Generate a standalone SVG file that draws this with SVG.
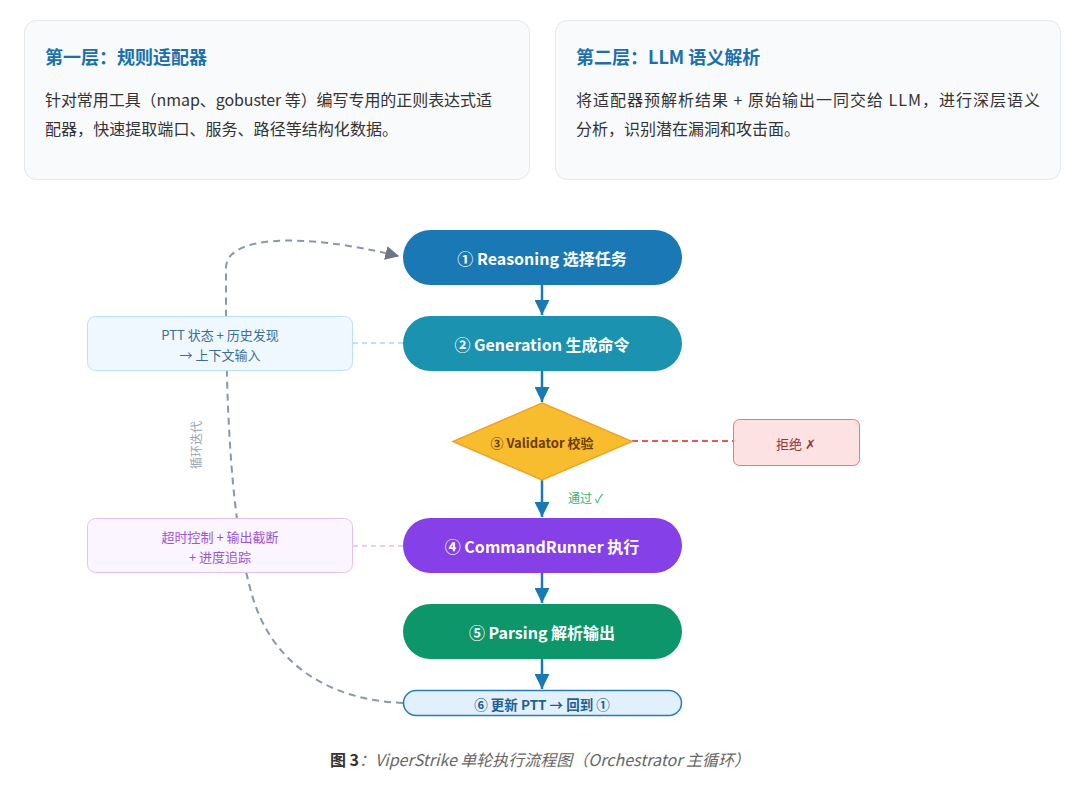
<svg xmlns="http://www.w3.org/2000/svg" width="1080" height="789" viewBox="0 0 1080 789">
<style>
text{font-family:"Noto Sans CJK SC","Liberation Sans",sans-serif;}
.card{fill:#f8fafc;stroke:#e2e8f0;stroke-width:1;}
.ctitle{font-size:18px;font-weight:bold;fill:#1a6fad;}
.cbody{font-size:16px;fill:#333;}
.ntext{font-size:16px;font-weight:bold;fill:#fff;text-anchor:middle;dominant-baseline:central;}
.flow{stroke:#1a78b4;stroke-width:2.5;fill:none;}
.note{font-size:13px;text-anchor:middle;dominant-baseline:central;}
</style>
<defs>
<marker id="ab" viewBox="0 0 10 10" refX="10" refY="5" markerWidth="6" markerHeight="6" orient="auto" markerUnits="strokeWidth"><path d="M0,0 L10,5 L0,10 z" fill="#1a78b4"/></marker>
<marker id="ag" viewBox="0 0 10 10" refX="9" refY="5" markerWidth="7" markerHeight="7" orient="auto" markerUnits="strokeWidth"><path d="M0,0 L10,5 L0,10 z" fill="#6b7689"/></marker>
</defs>
<rect width="1080" height="789" fill="#fff"/>
<g id="card1">
<rect class="card" x="24.5" y="20.5" width="505" height="159" rx="12"/>
<text class="ctitle" x="45" y="64">第一层：规则适配器</text>
<text class="cbody" x="45" y="106" textLength="447" lengthAdjust="spacing">针对常用工具（nmap、gobuster 等）编写专用的正则表达式适</text>
<text class="cbody" x="45" y="135" textLength="353" lengthAdjust="spacing">配器，快速提取端口、服务、路径等结构化数据。</text>
</g>
<g id="card2">
<rect class="card" x="555.5" y="20.5" width="505" height="159" rx="12"/>
<text class="ctitle" x="576" y="64">第二层：LLM 语义解析</text>
<text class="cbody" x="576" y="106" textLength="464" lengthAdjust="spacing">将适配器预解析结果 + 原始输出一同交给 LLM，进行深层语义</text>
<text class="cbody" x="576" y="135" textLength="224" lengthAdjust="spacing">分析，识别潜在漏洞和攻击面。</text>
</g>
<g id="connectors">
<line class="flow" x1="542" y1="285" x2="542" y2="315" marker-end="url(#ab)"/>
<line class="flow" x1="542" y1="371" x2="542" y2="402" marker-end="url(#ab)"/>
<line class="flow" x1="542" y1="480" x2="542" y2="517" marker-end="url(#ab)"/>
<line class="flow" x1="542" y1="573" x2="542" y2="603" marker-end="url(#ab)"/>
<line class="flow" x1="542" y1="659" x2="542" y2="689" marker-end="url(#ab)"/>
<line x1="353" y1="343" x2="403" y2="343" stroke="#a9d8f0" stroke-width="1.5" stroke-dasharray="5 4"/>
<line x1="353" y1="546" x2="403" y2="546" stroke="#dcc0fb" stroke-width="1.5" stroke-dasharray="5 4"/>
<line x1="632" y1="441" x2="733" y2="441" stroke="#ef5555" stroke-width="2" stroke-dasharray="6 4"/>
<path d="M403,703 C330,700 272,665 252,595 C236,540 226,450 226,300 L226,268 C226,236 300,232 398,256" fill="none" stroke="#8a96aa" stroke-width="2" stroke-dasharray="7 5" marker-end="url(#ag)"/>
<text x="568" y="503" font-size="12" fill="#2bb673">通过 ✓</text>
<text x="0" y="0" font-size="12" fill="#9aa6b8" transform="translate(201,445) rotate(-90)" text-anchor="middle">循环迭代</text>
</g>
<g id="n1">
<rect x="403" y="230" width="279" height="55" rx="27.5" fill="#1a78b4"/>
<text class="ntext" x="542" y="258">① Reasoning 选择任务</text>
</g>
<g id="n2">
<rect x="403" y="316" width="279" height="55" rx="27.5" fill="#1b92b0"/>
<text class="ntext" x="542" y="344">② Generation 生成命令</text>
</g>
<g id="ptt">
<rect x="87.5" y="316.5" width="265" height="54" rx="8" fill="#f0f8ff" stroke="#bce0f8"/>
<text class="note" x="220" y="334" fill="#3b6e96">PTT 状态 + 历史发现</text>
<text class="note" x="220" y="354" fill="#3b6e96">→ 上下文输入</text>
</g>
<g id="n3">
<polygon points="542,403 632,441.5 542,480 453,441.5" fill="#f8bd2e" stroke="#f0a326" stroke-width="1.5"/>
<text class="ntext" x="542" y="442" style="font-size:13px;fill:#6b3a06">③ Validator 校验</text>
</g>
<g id="reject">
<rect x="733.5" y="419.5" width="126" height="46" rx="6" fill="#fde2e3" stroke="#f07575"/>
<text class="note" x="796" y="443" fill="#8b3a3a">拒绝 ✗</text>
</g>
<g id="n4">
<rect x="403" y="518" width="279" height="55" rx="27.5" fill="#8540e8"/>
<text class="ntext" x="542" y="546">④ CommandRunner 执行</text>
</g>
<g id="timeout">
<rect x="87.5" y="518.5" width="265" height="54" rx="8" fill="#faf5ff" stroke="#e0c3fb"/>
<text class="note" x="220" y="536" fill="#9b55d8">超时控制 + 输出截断</text>
<text class="note" x="220" y="556" fill="#9b55d8">+ 进度追踪</text>
</g>
<g id="n5">
<rect x="403" y="604" width="279" height="55" rx="27.5" fill="#0c9669"/>
<text class="ntext" x="542" y="632">⑤ Parsing 解析输出</text>
</g>
<g id="n6">
<rect x="403.5" y="690.5" width="278" height="25" rx="12.5" fill="#e1f0fc" stroke="#2a7ab8" stroke-width="1.5"/>
<text class="ntext" x="542" y="704" style="font-size:13.5px;fill:#1e5f94">⑥ 更新 PTT → 回到 ①</text>
</g>
<g id="caption">
<text x="540" y="766" font-size="16" text-anchor="middle"><tspan font-weight="bold" fill="#333">图 3</tspan><tspan font-style="italic" fill="#666">：ViperStrike 单轮执行流程图（Orchestrator 主循环）</tspan></text>
</g>
</svg>
